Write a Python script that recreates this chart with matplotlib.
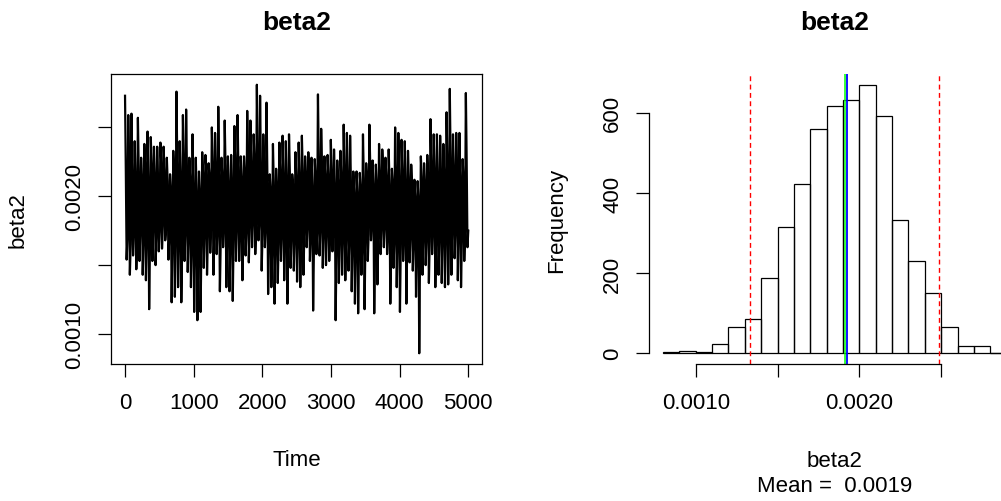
import numpy as np
import matplotlib.pyplot as plt
from matplotlib import rcParams

rcParams.update({'font.family': ['Liberation Sans', 'DejaVu Sans'], 'font.size': 16})

# beta2 chain, values in units of 1e-5 (hi, mid, lo, mid per step)
trace = [
    273, 218, 154, 170,  259, 222, 143, 165,  260, 215, 157, 172,  240, 212, 147, 168,
    257, 220, 153, 175,  228, 214, 143, 166,  238, 221, 139, 170,  247, 209, 118, 162,
    243, 224, 153, 177,  236, 216, 150, 169,  236, 212, 160, 174,  239, 225, 162, 178,
    236, 219, 168, 176,  228, 211, 154, 171,  216, 206, 123, 163,  233, 218, 127, 168,
    276, 223, 134, 166,  240, 213, 123, 161,  259, 226, 153, 174,  263, 220, 145, 170,
    228, 212, 134, 163,  245, 208, 116, 158,  228, 204, 110, 155,  218, 203, 116, 165,
    232, 217, 148, 172,  230, 221, 143, 170,  224, 215, 159, 178,  250, 224, 143, 169,
    246, 219, 158, 175,  265, 216, 131, 166,  228, 214, 163, 177,  255, 222, 134, 170,
    229, 210, 131, 164,  230, 207, 124, 168,  251, 224, 153, 176,  259, 221, 153, 173,
    229, 214, 139, 169,
    229, 218, 157, 174,  262, 227, 152, 177,  255, 223, 163, 180,  245, 226, 158, 176,
    281, 230, 168, 181,  273, 222, 146, 172,  245, 219, 163, 177,  268, 218, 129, 164,
    216, 205, 134, 162,  238, 210, 122, 160,  220, 206, 137, 165,  239, 217, 153, 172,
    244, 214, 139, 168,  240, 211, 122, 163,  245, 218, 148, 170,  216, 208, 146, 168,
    232, 213, 138, 166,  239, 214, 134, 169,  244, 219, 143, 172,  229, 217, 163, 178,
    232, 215, 153, 171,  228, 206, 117, 162,  227, 214, 158, 173,  274, 226, 157, 176,
    249, 222, 148, 171,  229, 216, 150, 172,  230, 214, 153, 171,  241, 219, 160, 176,
    234, 209, 110, 160,  226, 210, 137, 167,  233, 214, 143, 168,  252, 220, 139, 171,
    246, 215, 146, 168,  244, 210, 131, 163,  218, 202, 122, 159,
    218, 203, 115, 157,  217, 206, 143, 163,  245, 213, 118, 166,  224, 213, 153, 172,
    252, 223, 168, 180,  226, 209, 115, 161,  223, 210, 136, 167,  238, 218, 158, 175,
    234, 219, 163, 177,  228, 214, 158, 172,  234, 209, 122, 164,  220, 210, 148, 168,
    250, 218, 134, 167,  246, 211, 116, 162,  241, 218, 153, 172,  240, 210, 122, 163,
    233, 214, 152, 171,  223, 209, 146, 166,  212, 200, 127, 160,  211, 198, 86, 158,
    229, 214, 143, 168,  224, 211, 150, 170,  230, 214, 137, 167,  256, 224, 158, 175,
    245, 218, 134, 167,  245, 214, 143, 170,  244, 218, 137, 168,  238, 214, 134, 169,
    261, 222, 136, 170,  278, 227, 143, 173,  245, 220, 155, 175,  246, 219, 139, 171,
    246, 215, 134, 167,  227, 213, 153, 172,  275, 226, 163, 175,
]

# histogram of the same chain
breaks = [0.0008, 0.0009, 0.0010, 0.0011, 0.0012, 0.0013, 0.0014, 0.0015, 0.0016,
          0.0017, 0.0018, 0.0019, 0.0020, 0.0021, 0.0022, 0.0023, 0.0024, 0.0025,
          0.0026, 0.0027, 0.0028, 0.0029]
counts = [3, 6, 3, 23, 65, 85, 187, 315, 423, 560, 617, 631, 670, 593, 332, 231,
          150, 65, 19, 17, 1]

hpd_bounds = [0.001332, 0.002487]
median_val = 0.001911
mean_val = 0.001927


def rlim(lo, hi):
    pad = 0.04 * (hi - lo)
    return lo - pad, hi + pad


values = np.array(trace) * 1e-5
iters = np.linspace(1, 5000, len(values))

fig = plt.figure(figsize=(10.01, 5.02), dpi=100)
ax1 = fig.add_axes([111.3 / 1001, 137 / 502, 370.7 / 1001, 290 / 502])
ax2 = fig.add_axes([649.3 / 1001, 137 / 502, 371.1 / 1001, 290 / 502])

# ---- trace plot
ax1.plot(iters, values, color='black', lw=1.6)
ax1.set_xlim(*rlim(1, 5000))
ax1.set_ylim(*rlim(values.min(), values.max()))
ax1.set_xticks([0, 1000, 2000, 3000, 4000, 5000])
ax1.set_yticks([0.0010, 0.0015, 0.0020, 0.0025])
ax1.set_yticklabels(['0.0010', '', '0.0020', ''])
for sp in ax1.spines.values():
    sp.set_linewidth(0.9)
ax1.set_xlabel('Time')
ax1.xaxis.set_label_coords(0.5, (365 - 460) / 290)
ax1.xaxis.label.set_va('center')
ax1.set_ylabel('beta2')
ax1.yaxis.set_label_coords(-93 / 370.7, 0.5)
ax1.yaxis.label.set_va('center')

# ---- histogram
ax2.bar(breaks[:-1], counts, width=np.diff(breaks), align='edge',
        facecolor='none', edgecolor='black', lw=0.9)
for b in hpd_bounds:
    ax2.axvline(b, color='red', lw=1.0, dashes=(3.5, 2.5))
ax2.axvline(mean_val, color='blue', lw=1.3)
ax2.axvline(median_val, color='#00ff00', lw=1.1)
ax2.set_xlim(*rlim(breaks[0], breaks[-1]))
ax2.set_ylim(*rlim(0, max(counts)))
ax2.set_xticks([0.0010, 0.0015, 0.0020, 0.0025])
ax2.set_xticklabels(['0.0010', '', '0.0020', ''])
ax2.set_yticks([0, 200, 400, 600])
ax2.spines['top'].set_visible(False)
ax2.spines['right'].set_visible(False)
ax2.spines['bottom'].set_bounds(0.0010, 0.0025)
ax2.spines['left'].set_bounds(0, 600)
for sp in ax2.spines.values():
    sp.set_linewidth(0.9)
ax2.set_xlabel('beta2\nMean =  %.4f' % np.round(mean_val, 4), linespacing=1.25)
ax2.xaxis.set_label_coords(0.5, (365 - 474) / 290)
ax2.xaxis.label.set_va('center')
ax2.set_ylabel('Frequency')
ax2.yaxis.set_label_coords(-93 / 371.1, 0.5)
ax2.yaxis.label.set_va('center')

for ax in (ax1, ax2):
    # title baseline sits ~30 px below the top of the figure
    ax.set_title('beta2', fontweight='bold', fontsize=19, y=(365 - 30) / 290,
                 pad=0, va='baseline')
    ax.tick_params(axis='x', direction='out', length=9.4, width=0.9, pad=11)
    ax.tick_params(axis='y', direction='out', length=9.4, width=0.9, pad=9.5,
                   labelrotation=90)
    for lab in ax.get_yticklabels():
        lab.set_va('center')

fig.savefig('out.png', dpi=100)
